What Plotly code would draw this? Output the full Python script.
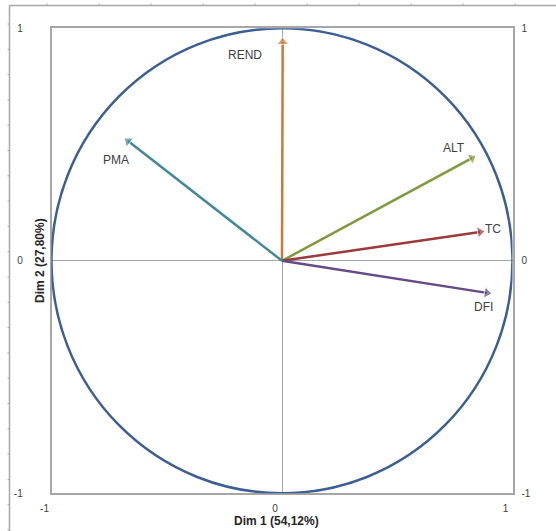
import plotly.graph_objects as go

# ---- data ----
variables = ["REND", "PMA", "ALT", "TC", "DFI"]
dim1 = [0.003, -0.668, 0.824, 0.859, 0.889]
dim2 = [0.941, 0.515, 0.442, 0.124, -0.138]
tick_vals = [-1, 0, 1]
tick_text = ["-1", "0", "1"]
x_title = "Dim 1 (54,12%)"
y_title = "Dim 2 (27,80%)"

# ---- styles ----
colors = ["#CC7B35", "#3F8A99", "#7F9A3A", "#9A3A3A", "#634C86"]
label_shift = [(-38, -13), (-12, -19), (-18, 10), (13, 3), (-3, -14)]  # px offsets from tip
W, H = 556, 531
PX_L, PX_R, PX_T, PX_B = 51.5, 512.5, 28.3, 493.3
GRAY = "#A6A6A6"
FONT = "Liberation Sans"

fig = go.Figure()

for name, x, y, c in zip(variables, dim1, dim2, colors):
    fig.add_trace(go.Scatter(
        x=[0, x], y=[0, y], mode="lines+markers",
        line=dict(color=c, width=2.5),
        marker=dict(symbol="triangle-up", size=[0, 10], angleref="previous", color=c),
        hoverinfo="skip", showlegend=False,
    ))

for name, x, y, (dx, dy) in zip(variables, dim1, dim2, label_shift):
    fig.add_annotation(x=x, y=y, xref="x", yref="y", text=name, showarrow=False,
                       xshift=dx, yshift=dy,
                       font=dict(family=FONT, size=12, color="#404040"))

fig.add_shape(type="circle", xref="x", yref="y", x0=-1, y0=-1, x1=1, y1=1,
              line=dict(color="#3B5E96", width=2.5), layer="above")

fig.add_trace(go.Scatter(x=[], y=[], xaxis="x", yaxis="y2", showlegend=False))

# outer chart-area frame (decorative)
fx, fy = 9.5 / W, 1 - 5.5 / H
fig.add_shape(type="line", xref="paper", yref="paper", x0=fx, x1=1, y0=fy, y1=fy,
              line=dict(color=GRAY, width=1.5))
fig.add_shape(type="line", xref="paper", yref="paper", x0=fx, x1=fx, y0=0, y1=fy,
              line=dict(color=GRAY, width=1.5))
px = 47.0
while px < W:
    fig.add_shape(type="line", xref="paper", yref="paper", x0=px / W, x1=px / W,
                  y0=fy, y1=fy + 2 / H, line=dict(color=GRAY, width=1))
    px += 52
py = 24.0
while py < H:
    fig.add_shape(type="line", xref="paper", yref="paper", x0=fx - 2 / W, x1=fx,
                  y0=1 - py / H, y1=1 - py / H, line=dict(color=GRAY, width=1))
    py += 25.3

tickfont = dict(family=FONT, size=10, color="#404040")
fig.update_layout(
    width=W, height=H,
    margin=dict(l=0, r=0, t=0, b=0, autoexpand=False),
    paper_bgcolor="white", plot_bgcolor="rgba(0,0,0,0)",
    xaxis=dict(domain=[PX_L / W, PX_R / W], range=[-1, 1], showgrid=False, automargin=False,
               zeroline=True, zerolinecolor=GRAY, zerolinewidth=1,
               showline=True, mirror=True, linecolor=GRAY, linewidth=1.5,
               tickvals=tick_vals, ticktext=tick_text, ticks="",
               ticklabelstandoff=5, ticklabelshift=-7, tickfont=tickfont,
               anchor="y"),
    yaxis=dict(domain=[1 - PX_B / H, 1 - PX_T / H], range=[-1, 1], showgrid=False, automargin=False,
               zeroline=True, zerolinecolor=GRAY, zerolinewidth=1,
               showline=True, mirror=True, linecolor=GRAY, linewidth=1.5,
               tickvals=tick_vals, ticktext=tick_text, ticks="",
               ticklabelstandoff=25, tickfont=tickfont, anchor="x"),
    yaxis2=dict(overlaying="y", side="right", range=[-1, 1], showgrid=False, automargin=False,
                zeroline=False, showline=False, tickvals=tick_vals, ticktext=tick_text,
                ticks="", ticklabelstandoff=8, tickfont=tickfont, anchor="x"),
    showlegend=False,
)

fig.add_annotation(text="<b>" + x_title + "</b>", xref="paper", yref="paper",
                   x=276 / W, y=1 - 521 / H, showarrow=False,
                   font=dict(family=FONT, size=12, color="#262626"),
                   xanchor="center", yanchor="middle")
fig.add_annotation(text="<b>" + y_title + "</b>", xref="paper", yref="paper",
                   x=40 / W, y=1 - 261 / H, showarrow=False, textangle=-90,
                   font=dict(family=FONT, size=12, color="#262626"),
                   xanchor="center", yanchor="middle")

fig.write_html("out.html", config={"displayModeBar": False},
               post_script="document.body.style.margin='0';")
